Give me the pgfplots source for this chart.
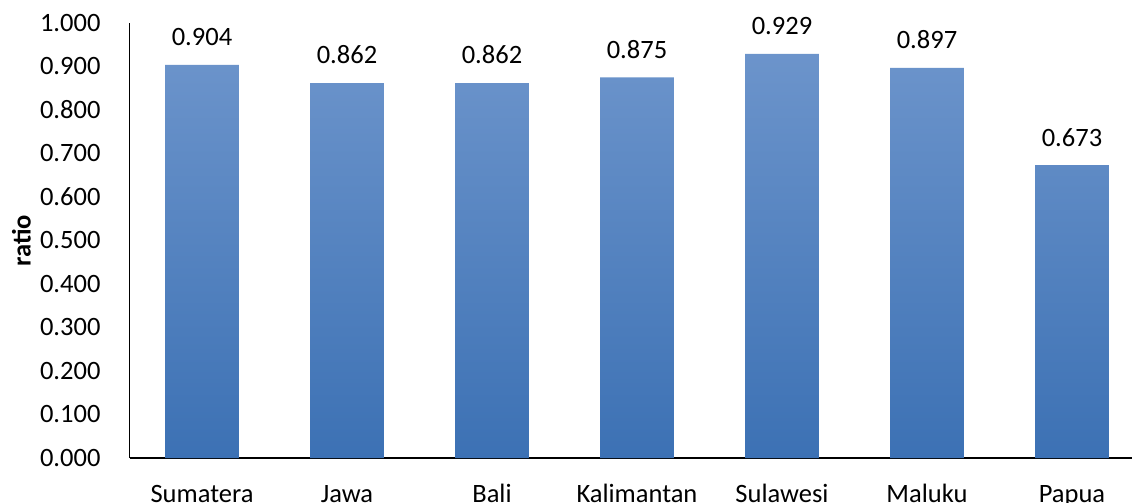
\documentclass[border=0pt]{standalone}
\usepackage{pgfplots}
\pgfplotsset{compat=1.18}
\usepackage{fontspec}
\setmainfont{Carlito}
\definecolor{bartop}{RGB}{108,148,203}
\definecolor{barbot}{RGB}{60,113,180}
\begin{document}
\fontsize{26.5bp}{31bp}\selectfont
\begin{tikzpicture}
\begin{axis}[
  scale only axis,
  width=1002.5bp, height=435bp,
  xmin=-0.5, xmax=6.414,
  ymin=0, ymax=1,
  axis lines*=left,
  axis line style={line width=1.6bp, black},
  ytick={0,0.1,...,1.0},
  ytick style={draw=none},
  xtick=data,
  xtick style={draw=none},
  xticklabels={Sumatera,Jawa,Bali,Kalimantan,Sulawesi,Maluku,Papua},
  /pgf/number format/assume math mode=true,
  yticklabel style={/pgf/number format/fixed, /pgf/number format/fixed zerofill, /pgf/number format/precision=3, xshift=-20bp},
  ticklabel style={font=\fontsize{26.5bp}{31bp}\selectfont},
  xticklabel style={anchor=north, inner sep=0pt, text height=17bp, text depth=0pt, yshift=-23bp},
  ylabel={\textbf{ratio}},
  ylabel style={font=\fontsize{26.5bp}{31bp}\selectfont},
  every axis y label/.style={at={(rel axis cs:0,0.5)}, rotate=90, anchor=center, yshift=108bp},
  ybar,
  bar width=0.51,
  nodes near coords,
  nodes near coords style={font=\fontsize{26.5bp}{31bp}\selectfont, /pgf/number format/fixed, /pgf/number format/fixed zerofill, /pgf/number format/precision=3, yshift=10bp},
  clip=false,
]
\addplot[draw=none, top color=bartop, bottom color=barbot] coordinates {
  (0,0.904) (1,0.862) (2,0.862) (3,0.875) (4,0.929) (5,0.897) (6,0.673)
};
\coordinate (sw) at (rel axis cs:0,0);
\coordinate (ne) at (rel axis cs:1,1);
\end{axis}
\pgfresetboundingbox
\path[use as bounding box] ([xshift=-129.5bp,yshift=-44bp]sw) rectangle ([yshift=23bp]ne);
\end{tikzpicture}
\end{document}
